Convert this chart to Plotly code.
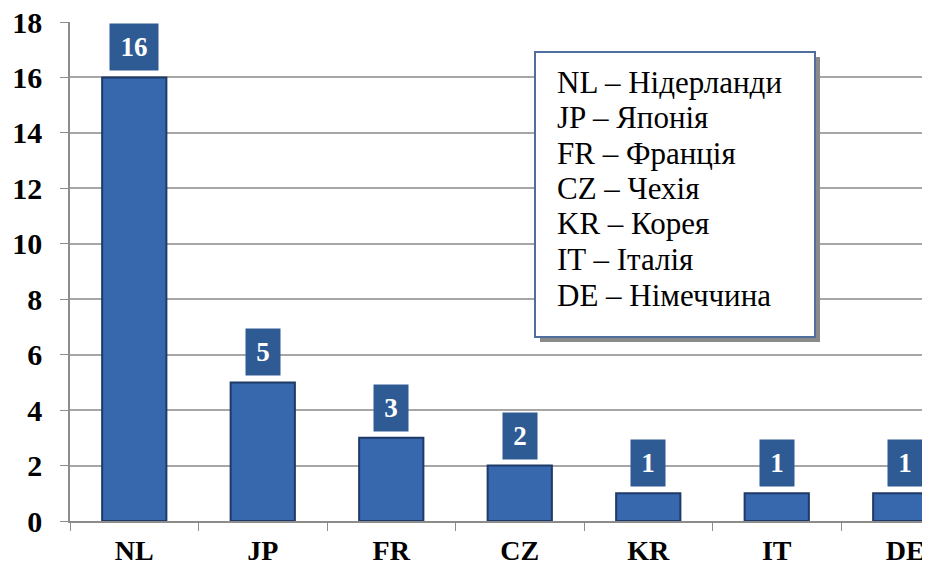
import plotly.graph_objects as go

categories = ["NL", "JP", "FR", "CZ", "KR", "IT", "DE"]
values = [16, 5, 3, 2, 1, 1, 1]
y_ticks = [0, 2, 4, 6, 8, 10, 12, 14, 16, 18]
legend_lines = [
    "NL – Нідерланди",
    "JP – Японія",
    "FR – Франція",
    "CZ – Чехія",
    "KR – Корея",
    "IT – Італія",
    "DE – Німеччина",
]

# page shows the figure offset by the default 8px body margin
OFF = 8
W, H = 930 - OFF, 571 - OFF
ML, MR, MT, MB = 70 - OFF, 0, 22 - OFF, 50
PW, PH = W - ML - MR, H - MT - MB


def px(x):
    return (x - OFF - ML) / PW


def py(y):
    return (H - MB - (y - OFF)) / PH


SERIF = "Liberation Serif"

fig = go.Figure()
fig.add_trace(go.Bar(
    x=categories, y=values,
    marker=dict(color="#3767AC", line=dict(color="#1F3A66", width=2)),
    width=0.5,
))

# value label boxes
for c, v in zip(categories, values):
    s = str(v)
    fig.add_annotation(
        x=c, y=v, xref="x", yref="y", yanchor="bottom", yshift=6,
        text="<b>%s</b>" % s, showarrow=False,
        font=dict(family=SERIF, size=27, color="white"),
        bgcolor="#2F5B95", borderpad=6, width=22 if len(s) == 1 else 36, height=34,
    )

# legend-like box
bx0, bx1, by0, by1 = 535, 815, 52, 337
fig.add_shape(type="rect", xref="paper", yref="paper",
              x0=px(bx0 + 5), x1=px(bx1 + 5), y0=py(by1 + 5), y1=py(by0 + 5),
              fillcolor="#8A8A8A", line=dict(width=0), layer="above")
fig.add_shape(type="rect", xref="paper", yref="paper",
              x0=px(bx0), x1=px(bx1), y0=py(by1), y1=py(by0),
              fillcolor="white", line=dict(color="#4F6E9E", width=2), layer="above")
for i, t in enumerate(legend_lines):
    cy = 82 + i * 35.5
    fig.add_annotation(
        x=px(555), y=py(cy), xref="paper", yref="paper",
        xanchor="left", yanchor="middle", text=t, showarrow=False,
        font=dict(family=SERIF, size=31, color="black"),
    )

fig.update_layout(
    width=W, height=H,
    margin=dict(l=ML, r=MR, t=MT, b=MB, autoexpand=False),
    paper_bgcolor="white", plot_bgcolor="white",
    font=dict(family=SERIF, color="black"),
    showlegend=False,
    bargap=0.5,
)
fig.update_xaxes(
    type="category", range=[-0.5, -0.5 + (930 - 70) / 128.5], automargin=False,
    showline=True, linecolor="#8C8C8C", linewidth=1.5,
    ticks="outside", ticklen=8, tickcolor="#8C8C8C", tickson="boundaries",
    tickfont=dict(family=SERIF, size=28, color="black", weight="bold"),
    ticklabelstandoff=4, ticklabeloverflow="allow",
    showgrid=False,
)
fig.update_yaxes(
    range=[0, 18], tickvals=y_ticks, automargin=False,
    showline=True, linecolor="#8C8C8C", linewidth=1.5,
    ticks="outside", ticklen=8, tickcolor="#8C8C8C",
    showgrid=True, gridcolor="#A6A6A6", gridwidth=1.5,
    tickfont=dict(family=SERIF, size=30, color="black", weight="bold"),
    ticklabelstandoff=12, ticklabeloverflow="allow",
    zeroline=False,
)

fig.write_html("out.html")
